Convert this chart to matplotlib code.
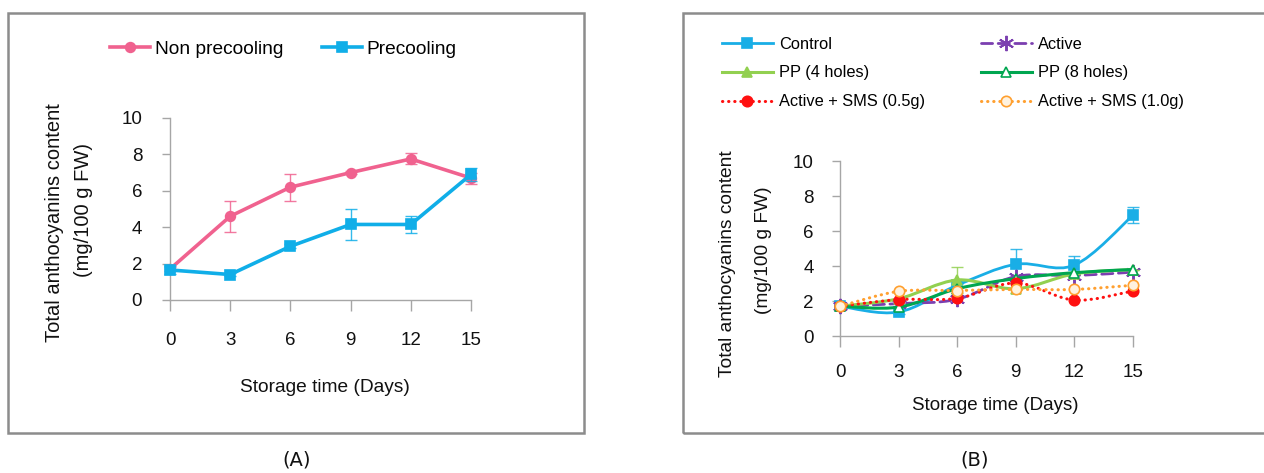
import numpy as np
import matplotlib
matplotlib.use("Agg")
import matplotlib.pyplot as plt
from matplotlib.path import Path
from matplotlib.patches import PathPatch, Rectangle
from matplotlib.lines import Line2D

plt.rcParams['font.family'] = ['Liberation Sans', 'DejaVu Sans']

# ---- data ----
days = [0, 3, 6, 9, 12, 15]

# panel A
non_precooling = [1.7, 4.6, 6.2, 7.0, 7.75, 6.7]
non_precooling_err = [0.1, 0.85, 0.75, 0.1, 0.3, 0.3]
precooling = [1.65, 1.4, 2.95, 4.15, 4.15, 6.9]
precooling_err = [0.2, 0.1, 0.1, 0.85, 0.45, 0.35]

# panel B
control = [1.7, 1.37, 2.9, 4.1, 4.05, 6.9]
control_err = [0.1, 0.1, 0.1, 0.9, 0.5, 0.45]
active = [1.7, 1.85, 2.1, 3.4, 3.45, 3.65]
pp4 = [1.7, 2.13, 3.2, 2.7, 3.55, 3.8]
pp4_err = [0.0, 0.0, 0.75, 0.0, 0.0, 0.0]
pp8 = [1.7, 1.65, 2.7, 3.28, 3.62, 3.8]
sms05 = [1.7, 2.08, 2.15, 3.03, 2.05, 2.57]
sms10 = [1.7, 2.55, 2.6, 2.66, 2.66, 2.9]

W, H = 1264, 473
fig = plt.figure(figsize=(W / 100, H / 100), dpi=100)


def fx(px):
    return px / W


def fy(py):
    return 1 - py / H


def line_path(x, y, smooth):
    # straight segments, or Excel-style smoothed line through the points
    pts = np.column_stack([x, y]).astype(float)
    n = len(pts)
    if not smooth:
        return Path(pts)
    verts = [pts[0]]
    codes = [Path.MOVETO]
    for i in range(n - 1):
        p0 = pts[max(i - 1, 0)]
        p1 = pts[i]
        p2 = pts[i + 1]
        p3 = pts[min(i + 2, n - 1)]
        verts += [p1 + (p2 - p0) / 6, p2 - (p3 - p1) / 6, p2]
        codes += [Path.CURVE4] * 3
    return Path(verts, codes)


def style_axes(ax, xpad, ypad):
    ax.set_xlim(0, 15)
    ax.set_ylim(0, 10)
    ax.set_xticks(days)
    ax.set_yticks(range(0, 11, 2))
    for s in ['top', 'right']:
        ax.spines[s].set_visible(False)
    for s in ['left', 'bottom']:
        ax.spines[s].set_color('#a6a6a6')
        ax.spines[s].set_linewidth(1.0)
    ax.tick_params(axis='x', direction='out', length=8, width=1, color='#a6a6a6',
                   labelsize=13.5, pad=xpad, labelcolor='#111111')
    ax.tick_params(axis='y', direction='out', length=6, width=1, color='#a6a6a6',
                   labelsize=13.5, pad=ypad, labelcolor='#111111')
    ax.patch.set_alpha(0)


def series(ax, y, color, marker, ls='-', lw=2.2, ms=7, mfc=None, mew=1.2, err=None,
           z=2, smooth=True):
    ax.add_patch(PathPatch(line_path(days, y, smooth), fill=False, edgecolor=color, lw=lw,
                           linestyle=ls, clip_on=False, zorder=z, capstyle='round',
                           joinstyle='round'))
    if err is not None:
        ax.errorbar(days, y, yerr=err, fmt='none', ecolor=color, elinewidth=1,
                    capsize=4, capthick=1, clip_on=False, zorder=z, alpha=0.85)
    ax.plot(days, y, linestyle='none', marker=marker, ms=ms, color=color,
            mfc=mfc if mfc else color, mec=color, mew=mew, clip_on=False, zorder=z + 0.1)
    h = Line2D([], [], color=color, lw=lw, linestyle=ls, marker=marker, ms=ms,
               mfc=mfc if mfc else color, mec=color, mew=mew)
    h.set_dash_capstyle('round')
    return h


# ---- frames ----
fig.add_artist(Rectangle((fx(8), fy(433)), fx(584) - fx(8), fy(13) - fy(433),
                         transform=fig.transFigure, fill=False, ec='#8c8c8c', lw=1.8))
fig.add_artist(Rectangle((fx(683), fy(433)), fx(1275) - fx(683), fy(13) - fy(433),
                         transform=fig.transFigure, fill=False, ec='#8c8c8c', lw=1.8,
                         clip_on=False))

# ---- panel A ----
axA = fig.add_axes([fx(170), fy(300), fx(471) - fx(170), fy(118) - fy(300)])
style_axes(axA, xpad=15, ypad=14)
pink = '#f0628f'
blue = '#10aee8'
hA1 = series(axA, non_precooling, pink, 'o', lw=2.6, ms=7, err=non_precooling_err,
             smooth=False)
hA2 = series(axA, precooling, blue, 's', lw=2.6, ms=7.5, err=precooling_err, z=3,
             smooth=False)

fig.legend([hA1, hA2], ['Non precooling', 'Precooling'], loc='center left',
           bbox_to_anchor=(fx(110), fy(49)), bbox_transform=fig.transFigure,
           ncol=2, frameon=False, fontsize=13.8, handlelength=2.1, handletextpad=0.25,
           columnspacing=2.0, borderpad=0, borderaxespad=0)

fig.text(fx(55), fy(223), 'Total anthocyanins content', rotation=90,
         ha='center', va='center', fontsize=14.5, color='#111111')
fig.text(fx(84), fy(210), '(mg/100 g FW)', rotation=90,
         ha='center', va='center', fontsize=14.5, color='#111111')
fig.text(fx(325), fy(387), 'Storage time (Days)', ha='center', va='center',
         fontsize=13.8, color='#111111')

# ---- panel B ----
axB = fig.add_axes([fx(840), fy(336), fx(1133) - fx(840), fy(161) - fy(336)])
style_axes(axB, xpad=12, ypad=13)
dots = (0, (0.1, 1.9))
hB1 = series(axB, control, '#19aee6', 's', lw=2.0, ms=7.5, err=control_err, z=2)
hB2 = series(axB, active, '#7b3fb0', (6, 2, 0), ls=(0, (4, 2)), lw=2.0, ms=11, mew=1.4, z=3)
hB3 = series(axB, pp4, '#92d050', '^', lw=2.2, ms=7.5, err=pp4_err, z=4)
hB4 = series(axB, pp8, '#00a650', '^', lw=2.2, ms=7.5, mfc='white', z=5)
hB5 = series(axB, sms05, '#ff1010', 'o', ls=dots, lw=2.2, ms=7.5, z=6)
hB6 = series(axB, sms10, '#ffa030', 'o', ls=dots, lw=2.2, ms=7.5, mfc='#fff2df', z=7)

fig.legend([hB1, hB3, hB5, hB2, hB4, hB6],
           ['Control', 'PP (4 holes)', 'Active + SMS (0.5g)',
            'Active', 'PP (8 holes)', 'Active + SMS (1.0g)'],
           loc='center left', bbox_to_anchor=(fx(722), fy(73)),
           bbox_transform=fig.transFigure, ncol=2, frameon=False, fontsize=11.8,
           handlelength=3.1, handletextpad=0.4, columnspacing=3.4, labelspacing=0.85,
           borderpad=0, borderaxespad=0)

fig.text(fx(728), fy(264), 'Total anthocyanins content', rotation=90,
         ha='center', va='center', fontsize=13.8, color='#111111')
fig.text(fx(763), fy(250), '(mg/100 g FW)', rotation=90,
         ha='center', va='center', fontsize=13.8, color='#111111')
fig.text(fx(995), fy(405), 'Storage time (Days)', ha='center', va='center',
         fontsize=13.5, color='#111111')

# ---- captions ----
fig.text(fx(297), fy(460), '(A)', ha='center', va='center', fontsize=14,
         family='DejaVu Sans', color='#111111')
fig.text(fx(975), fy(460), '(B)', ha='center', va='center', fontsize=14,
         family='DejaVu Sans', color='#111111')

fig.savefig('out.png', dpi=100)
